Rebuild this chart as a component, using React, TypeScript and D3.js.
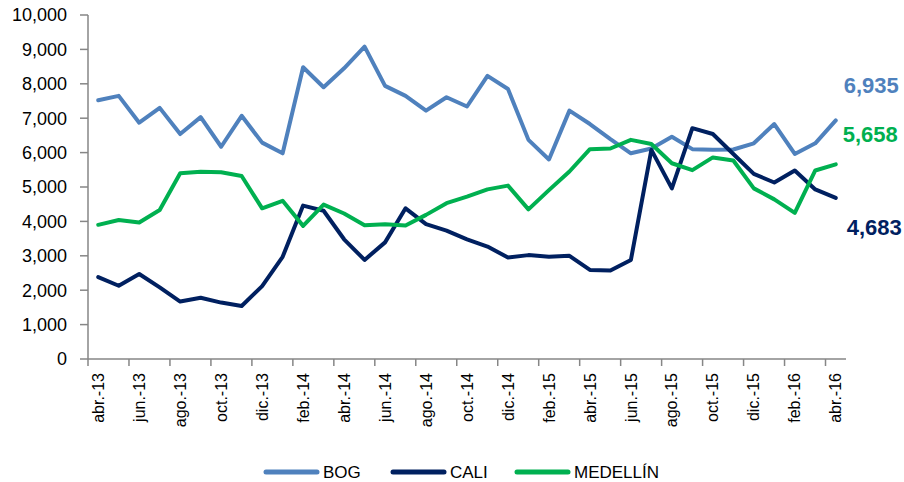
import React from "react";
import * as d3 from "d3";

// monthly categories, abr.-13 .. abr.-16
const months = [
  "abr.-13", "may.-13", "jun.-13", "jul.-13", "ago.-13", "sep.-13", "oct.-13", "nov.-13", "dic.-13",
  "ene.-14", "feb.-14", "mar.-14", "abr.-14", "may.-14", "jun.-14", "jul.-14", "ago.-14", "sep.-14",
  "oct.-14", "nov.-14", "dic.-14", "ene.-15", "feb.-15", "mar.-15", "abr.-15", "may.-15", "jun.-15",
  "jul.-15", "ago.-15", "sep.-15", "oct.-15", "nov.-15", "dic.-15", "ene.-16", "feb.-16", "mar.-16",
  "abr.-16",
];

const bog = [
  7520, 7650, 6870, 7300, 6540, 7030, 6170, 7070, 6290, 5980, 8480, 7900, 8450, 9080, 7940, 7650,
  7220, 7610, 7340, 8230, 7850, 6370, 5800, 7220, 6830, 6390, 5980, 6120, 6460, 6100, 6080, 6090,
  6270, 6830, 5960, 6270, 6935,
];
const cali = [
  2380, 2130, 2470, 2080, 1670, 1780, 1640, 1540, 2120, 2970, 4460, 4310, 3480, 2880, 3390, 4380,
  3920, 3730, 3480, 3270, 2950, 3020, 2970, 3000, 2590, 2570, 2880, 6080, 4960, 6710, 6540, 5960,
  5380, 5130, 5480, 4930, 4683,
];
const medellin = [
  3900, 4040, 3970, 4330, 5400, 5440, 5430, 5320, 4380, 4600, 3870, 4490, 4230, 3890, 3920, 3880,
  4190, 4530, 4720, 4930, 5040, 4350, 4910, 5450, 6100, 6120, 6370, 6250, 5690, 5490, 5860, 5770,
  4960, 4640, 4250, 5480, 5658,
];

const seriesNames = ["BOG", "CALI", "MEDELLÍN"];
const yTicks = [0, 1000, 2000, 3000, 4000, 5000, 6000, 7000, 8000, 9000, 10000];

const colors = ["#4F81BD", "#002060", "#00B050"];
const FONT = "'Liberation Sans', Arial, sans-serif";
const AXIS = "#868686";

export default function App() {
  const width = 904;
  const height = 482;
  const left = 88;
  const right = 846;
  const top = 15;
  const bottom = 359;

  const x = d3.scaleBand<string>().domain(months).range([left, right]).padding(0);
  const y = d3.scaleLinear().domain([0, 10000]).range([bottom, top]);
  const cx = (m: string) => (x(m) as number) + x.bandwidth() / 2;

  const line = d3
    .line<number>()
    .x((_, i) => cx(months[i]))
    .y((d) => y(d));

  const data = [bog, cali, medellin];
  const fmt = d3.format(",");
  const last = months[months.length - 1];

  // end-of-series label offsets (dx, dy from last point)
  const endOffsets = [
    [8, -27],
    [11, 37],
    [7, -22],
  ];

  // legend placement
  const legendX = [264, 391, 515];
  const legendY = 472;

  return (
    <svg
      width={width}
      height={height}
      style={{ position: "absolute", left: 0, top: 0, display: "block", background: "#fff" }}
      fontFamily={FONT}
    >
      {/* y axis */}
      <line x1={left} x2={left} y1={top} y2={bottom} stroke={AXIS} strokeWidth={1.5} />
      {yTicks.map((t) => (
        <g key={t}>
          <line x1={left - 8} x2={left} y1={y(t)} y2={y(t)} stroke={AXIS} strokeWidth={1.5} />
          <text x={67} y={y(t)} dy="0.35em" textAnchor="end" fontSize={18} fill="#000">
            {fmt(t)}
          </text>
        </g>
      ))}

      {/* x axis */}
      <line x1={left} x2={right} y1={bottom} y2={bottom} stroke={AXIS} strokeWidth={1.5} />
      {months.map((m, i) =>
        i % 2 === 0 ? (
          <g key={m}>
            <line
              x1={x(m) as number}
              x2={x(m) as number}
              y1={bottom}
              y2={bottom + 7}
              stroke={AXIS}
              strokeWidth={1.5}
            />
            <text
              transform={`translate(${cx(m)},${bottom + 14}) rotate(-90)`}
              dy="0.35em"
              textAnchor="end"
              fontSize={16}
              fill="#000"
            >
              {m}
            </text>
          </g>
        ) : null
      )}

      {/* series */}
      {data.map((vals, k) => (
        <path
          key={seriesNames[k]}
          d={line(vals) as string}
          fill="none"
          stroke={colors[k]}
          strokeWidth={4}
          strokeLinejoin="round"
          strokeLinecap="round"
        />
      ))}

      {/* end labels */}
      {data.map((vals, k) => (
        <text
          key={"lbl" + k}
          x={cx(last) + endOffsets[k][0]}
          y={y(vals[vals.length - 1]) + endOffsets[k][1]}
          fontSize={22}
          fontWeight="bold"
          fill={colors[k]}
        >
          {fmt(vals[vals.length - 1])}
        </text>
      ))}

      {/* legend */}
      {seriesNames.map((name, k) => (
        <g key={name}>
          <line
            x1={legendX[k] + 2}
            x2={legendX[k] + 53}
            y1={legendY}
            y2={legendY}
            stroke={colors[k]}
            strokeWidth={5}
            strokeLinecap="round"
          />
          <text x={legendX[k] + 59} y={legendY} dy="0.35em" fontSize={17} fill="#000">
            {name}
          </text>
        </g>
      ))}
    </svg>
  );
}
